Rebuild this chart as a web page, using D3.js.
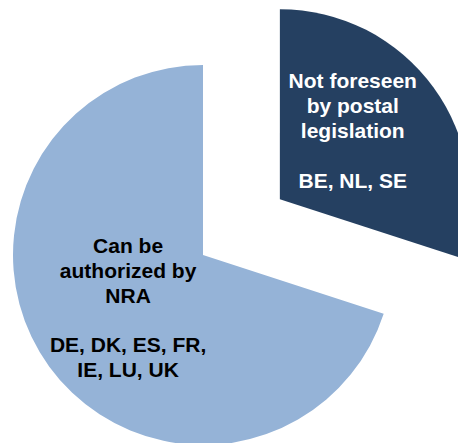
<!DOCTYPE html>
<html>
<head>
<meta charset="utf-8">
<script src="https://cdn.jsdelivr.net/npm/d3@7"></script>
<style>
  html, body { margin: 0; padding: 0; background: #ffffff; }
  svg { display: block; }
</style>
</head>
<body>
<svg id="chart" width="458" height="443"></svg>
<script>
// Status of the provision, the countries in each group, and the group sizes
const categories = ["Not foreseen by postal legislation", "Can be authorized by NRA"];
const titleLines = [["Not foreseen", "by postal", "legislation"], ["Can be", "authorized by", "NRA"]];
const countryLines = [["BE, NL, SE"], ["DE, DK, ES, FR,", "IE, LU, UK"]];
const counts = [3, 7];

const colors = ["#254061", "#95B3D7"];
const textColors = ["#ffffff", "#000000"];

const width = 458, height = 443;
const cx = 203, cy = 255, radius = 190;
const explode = [95, 0];          // pull-out distance per slice
const labelNudge = [[-8, -10], [6, -6]];
const fontSize = 21, lineHeight = 24.8;

const svg = d3.select("#chart");
const g = svg.append("g").attr("transform", `translate(${cx},${cy})`);

const pie = d3.pie().sort(null).value(d => d.count);
const data = categories.map((c, i) => ({
  name: c, count: counts[i], title: titleLines[i], countries: countryLines[i], i
}));
const arcs = pie(data);

const arc = d3.arc().innerRadius(0).outerRadius(radius);
const labelArc = d3.arc().innerRadius(0).outerRadius(200);

const slices = g.selectAll("g.slice")
  .data(arcs)
  .join("g")
  .attr("class", "slice")
  .attr("transform", d => {
    const mid = (d.startAngle + d.endAngle) / 2;
    const off = explode[d.data.i];
    return `translate(${Math.sin(mid) * off},${-Math.cos(mid) * off})`;
  });

slices.append("path")
  .attr("d", arc)
  .attr("fill", d => colors[d.data.i]);

slices.each(function(d) {
  const [lx, ly] = labelArc.centroid(d);
  const [nx, ny] = labelNudge[d.data.i];
  const lines = d.data.title.concat([""], d.data.countries);
  const firstBaseline = ly + ny - (lines.length - 1) * lineHeight / 2 + fontSize * 0.716 / 2;
  const t = d3.select(this).append("text")
    .attr("text-anchor", "middle")
    .attr("font-family", "'Liberation Sans', Arial, sans-serif")
    .attr("font-weight", "bold")
    .attr("font-size", fontSize)
    .attr("fill", textColors[d.data.i]);
  lines.forEach((line, k) => {
    t.append("tspan")
      .attr("x", lx + nx)
      .attr("y", firstBaseline + k * lineHeight)
      .text(line);
  });
});
</script>
</body>
</html>
